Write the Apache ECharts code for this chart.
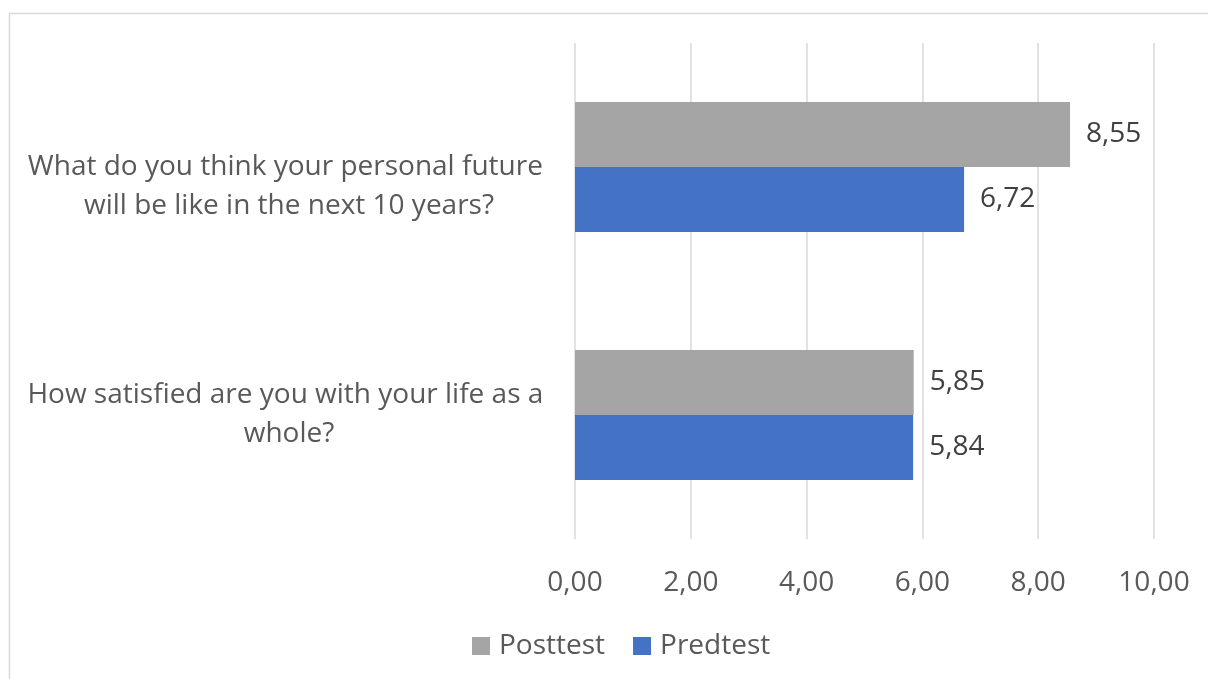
<!DOCTYPE html>
<html><head><meta charset="utf-8">
<script src="https://cdn.jsdelivr.net/npm/echarts@6/dist/echarts.min.js"></script>
<style>html,body{margin:0;padding:0;background:#fff}#c{width:1208px;height:679px}</style>
</head><body><div id="c"></div>
<script>
const categories = ['How satisfied are you with your life as a whole?', 'What do you think your personal future will be like in the next 10 years?'];
const posttest = [5.85, 8.55];
const predtest = [5.84, 6.72];
const seriesNames = ['Posttest', 'Predtest'];
const xTicks = {min: 0, max: 10, interval: 2};

const FONT = 'Open Sans';
const FS = 28;
const fmt = v => v.toFixed(2).replace('.', ',');
const chart = echarts.init(document.getElementById('c'));
const labelCfg = {show: true, position: 'right', distance: 16, formatter: p => fmt(p.value), fontSize: FS, color: '#404040', fontFamily: FONT};
chart.setOption({
  animation: false,
  textStyle: {fontFamily: FONT},
  graphic: [{type: 'rect', shape: {x: 9.5, y: 13.5, width: 1300, height: 800}, style: {fill: 'none', stroke: '#d9d9d9', lineWidth: 1.5}, silent: true}],
  grid: {left: 575, right: 54, top: 43, bottom: 140, containLabel: false, outerBoundsMode: 'none'},
  legend: {
    data: seriesNames, top: 627, left: 467, itemWidth: 18, itemHeight: 18, itemGap: 28, icon: 'rect',
    textStyle: {fontFamily: FONT, fontSize: FS, color: '#595959', padding: [0, 0, 0, 4]}
  },
  xAxis: {
    type: 'value', min: xTicks.min, max: xTicks.max, interval: xTicks.interval,
    axisLine: {show: false}, axisTick: {show: false},
    splitLine: {lineStyle: {color: '#d9d9d9', width: 1.5}},
    axisLabel: {formatter: fmt, fontSize: FS, color: '#595959', margin: 30}
  },
  yAxis: {
    type: 'category', data: categories,
    axisLine: {show: false}, axisTick: {show: false},
    axisLabel: {
      // the upper label sits half a line below its band centre in the reference
      formatter: (v, i) => (i === 1 ? '\n' : '') + v,
      margin: 286, fontSize: FS, color: '#595959', align: 'center', width: 535, overflow: 'break', lineHeight: 39
    }
  },
  series: [
    {name: 'Posttest', type: 'bar', data: posttest, itemStyle: {color: '#a5a5a5'}, barWidth: 65, barGap: '0%', label: labelCfg},
    {name: 'Predtest', type: 'bar', data: predtest, itemStyle: {color: '#4472c4'}, barWidth: 65, barGap: '0%', label: labelCfg}
  ]
});
</script></body></html>
